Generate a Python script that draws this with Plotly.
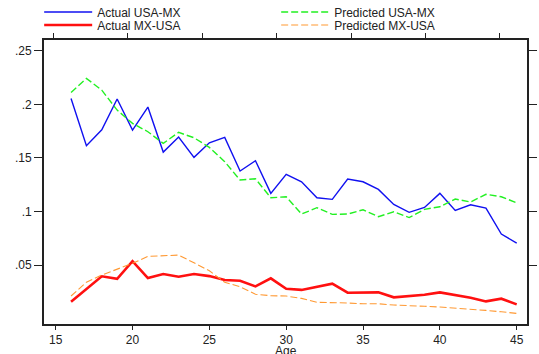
import plotly.graph_objects as go

ages = list(range(16, 46))

actual_usa_mx = [0.2055, 0.1613, 0.1762, 0.2049, 0.1759, 0.1974, 0.1554, 0.1694, 0.1505, 0.1641,
                 0.1691, 0.1378, 0.1473, 0.1169, 0.1346, 0.1277, 0.1128, 0.1113, 0.1302, 0.1277,
                 0.1206, 0.1066, 0.0992, 0.1038, 0.1169, 0.1010, 0.1063, 0.1032, 0.0789, 0.0705]

predicted_usa_mx = [0.2111, 0.2242, 0.2132, 0.1946, 0.1822, 0.1744, 0.1635, 0.1738, 0.1688, 0.1598,
                    0.1464, 0.1293, 0.1305, 0.1128, 0.1137, 0.0976, 0.1035, 0.0973, 0.0976, 0.1016,
                    0.0951, 0.0997, 0.0943, 0.1020, 0.1044, 0.1116, 0.1088, 0.1160, 0.1137, 0.1081]

actual_mx_usa = [0.0158, 0.0276, 0.0395, 0.0372, 0.0537, 0.0379, 0.0416, 0.0391, 0.0416, 0.0397,
                 0.0360, 0.0354, 0.0301, 0.0376, 0.0279, 0.0268, 0.0298, 0.0326, 0.0242, 0.0242,
                 0.0245, 0.0199, 0.0211, 0.0223, 0.0245, 0.0220, 0.0195, 0.0161, 0.0186, 0.0133]

predicted_mx_usa = [0.0211, 0.0339, 0.0407, 0.0463, 0.0516, 0.0581, 0.0584, 0.0593, 0.0521, 0.0447,
                    0.0339, 0.0298, 0.0227, 0.0214, 0.0211, 0.0189, 0.0152, 0.0152, 0.0146, 0.0139,
                    0.0139, 0.0127, 0.0124, 0.0115, 0.0108, 0.0099, 0.0090, 0.0077, 0.0064, 0.0049]

x_ticks = [15, 20, 25, 30, 35, 40, 45]
y_ticks = [0.05, 0.1, 0.15, 0.2, 0.25]
y_tick_labels = [".05", ".1", ".15", ".2", ".25"]
top_ticks = [0, 1, 2, 3, 4, 5, 6]

fig = go.Figure()
fig.add_trace(go.Scatter(x=ages, y=actual_usa_mx, mode="lines", name="Actual USA-MX",
                         legend="legend", line=dict(color="#1010f0", width=1.4)))
fig.add_trace(go.Scatter(x=ages, y=predicted_usa_mx, mode="lines", name="Predicted USA-MX",
                         legend="legend", line=dict(color="#22f022", width=1.4, dash="7px,3px")))
fig.add_trace(go.Scatter(x=ages, y=actual_mx_usa, mode="lines", name="Actual MX-USA",
                         legend="legend2", line=dict(color="#ff1010", width=2.6)))
fig.add_trace(go.Scatter(x=ages, y=predicted_mx_usa, mode="lines", name="Predicted MX-USA",
                         legend="legend2", line=dict(color="#ff9933", width=1.1, dash="7px,3px")))
# empty helper trace so that the top tick axis is drawn
fig.add_trace(go.Scatter(x=top_ticks, y=[None] * len(top_ticks), xaxis="x2", mode="lines",
                         showlegend=False, hoverinfo="skip"))

font = dict(family="Liberation Sans, Arial, sans-serif", size=12, color="#222")
legend_common = dict(orientation="h", x=-0.01, xanchor="left", yanchor="middle",
                     entrywidth=174, entrywidthmode="pixels", itemwidth=48,
                     font=dict(size=12), bgcolor="rgba(0,0,0,0)", borderwidth=0)

fig.update_layout(
    width=539, height=354,
    margin=dict(l=44, r=12, t=40, b=30, autoexpand=False),
    paper_bgcolor="white", plot_bgcolor="white",
    font=font,
    showlegend=True,
    legend=dict(y=1.0 + 28 / 284, **legend_common),
    legend2=dict(y=1.0 + 15 / 284, **legend_common),
    xaxis=dict(range=[14.24, 45.67], tickvals=x_ticks, ticks="outside", ticklen=4,
               tickwidth=1.3, tickcolor="#222", showline=True, linecolor="#222", linewidth=1.8,
               mirror=True, showgrid=False, zeroline=False, layer="above traces"),
    xaxis2=dict(overlaying="x", side="top", anchor="y", range=[-0.125, 6.363],
                tickvals=top_ticks, showticklabels=False, ticks="outside", ticklen=6,
                tickwidth=1.3, tickcolor="#222", showline=False, showgrid=False,
                zeroline=False),
    yaxis=dict(range=[-0.005, 0.26], tickvals=y_ticks, ticktext=y_tick_labels,
               ticks="outside", ticklen=8, tickwidth=1.3, tickcolor="#222",
               showline=True, linecolor="#222", linewidth=1.8, mirror="ticks",
               showgrid=False, zeroline=False, layer="above traces"),
    annotations=[dict(text="Age", xref="paper", yref="paper", x=0.5, y=-27 / 284,
                      xanchor="center", yanchor="middle", showarrow=False,
                      font=dict(size=12))],
)

fig.write_html("out.html", config={"displayModeBar": False},
               post_script="document.body.style.margin='0';")
